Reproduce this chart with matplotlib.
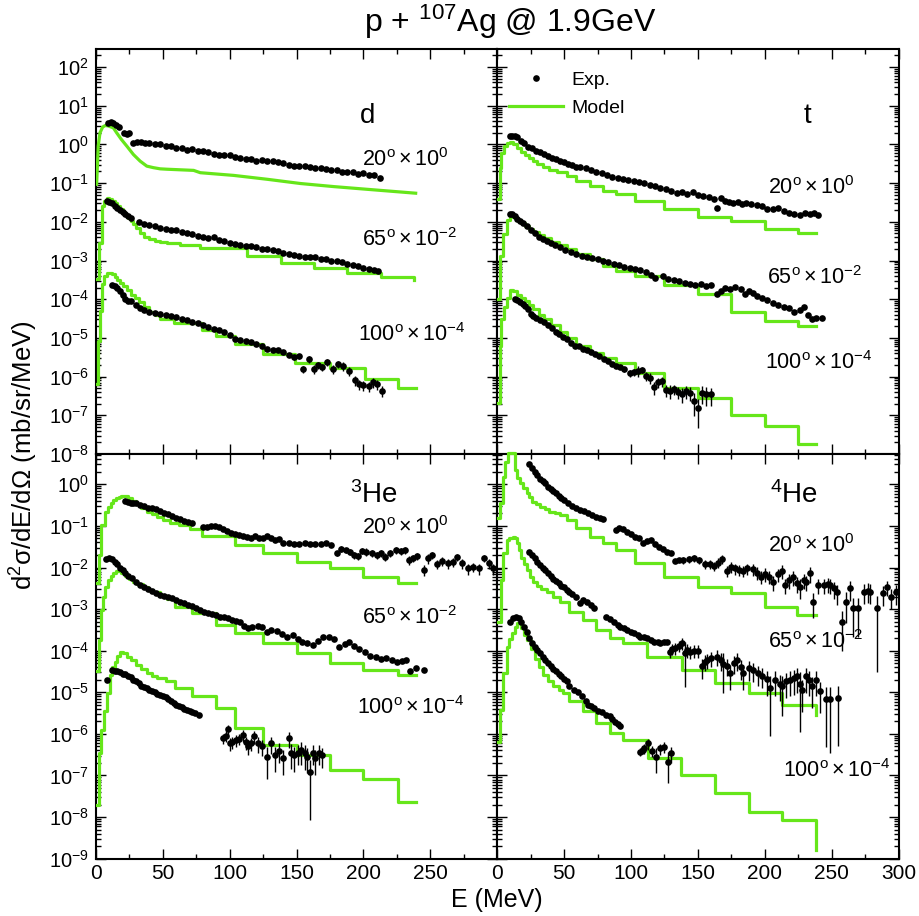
import numpy as np
import matplotlib
matplotlib.use('Agg')
import matplotlib.pyplot as plt
from matplotlib.lines import Line2D
from matplotlib.ticker import LogLocator, MultipleLocator, NullFormatter

plt.rcParams['font.family'] = ['Liberation Sans', 'DejaVu Sans']
plt.rcParams['mathtext.fontset'] = 'custom'
plt.rcParams['mathtext.rm'] = 'Liberation Sans'
plt.rcParams['mathtext.it'] = 'Liberation Sans:italic'
plt.rcParams['mathtext.bf'] = 'Liberation Sans:bold'

# ---------------- data (energies in MeV, cross sections as log10) ----------------
# deuterons
d20_E = [9, 11, 13, 15, 17, 21, 23, 25, 28, 31, 34, 37, 40, 44, 48, 52, 56, 60, 64, 68, 72, 76, 80, 84, 88, 92, 96, 100, 104, 108, 112, 116, 120, 124, 128, 132, 136, 140, 144, 148, 152, 156, 160, 164, 168, 172, 176, 180, 184, 188, 192, 196, 200, 204, 208, 212]
d20_lg = [0.56, 0.57, 0.55, 0.50, 0.46, 0.30, 0.28, 0.30, 0.03, 0.07, 0.07, 0.05, 0.04, 0.0, 0.0, -0.04, -0.05, -0.08, -0.10, -0.14, -0.13, -0.16, -0.18, -0.20, -0.24, -0.26, -0.26, -0.28, -0.32, -0.36, -0.38, -0.38, -0.42, -0.40, -0.43, -0.44, -0.46, -0.48, -0.52, -0.55, -0.56, -0.55, -0.58, -0.62, -0.60, -0.64, -0.66, -0.66, -0.70, -0.72, -0.72, -0.76, -0.75, -0.79, -0.80, -0.86]
d65_E = [8, 10, 12, 14, 16, 18, 20, 22, 24, 26, 32, 36, 40, 44, 48, 52, 56, 60, 64, 68, 72, 76, 80, 84, 88, 92, 96, 100, 104, 108, 112, 116, 120, 124, 128, 132, 136, 140, 144, 148, 152, 156, 160, 164, 168, 172, 176, 180, 184, 188, 192, 196, 200, 204, 208, 211]
d65_lg = [-1.46, -1.48, -1.52, -1.58, -1.65, -1.70, -1.74, -1.80, -1.86, -1.90, -2.0, -2.05, -2.08, -2.12, -2.15, -2.18, -2.20, -2.22, -2.27, -2.28, -2.32, -2.36, -2.38, -2.42, -2.40, -2.48, -2.50, -2.55, -2.58, -2.60, -2.63, -2.63, -2.66, -2.70, -2.71, -2.73, -2.76, -2.80, -2.82, -2.86, -2.88, -2.90, -2.92, -2.90, -2.95, -2.97, -3.00, -3.02, -3.05, -3.08, -3.12, -3.15, -3.20, -3.22, -3.24, -3.28]
d100_E = [12, 14, 16, 18, 20, 22, 24, 26, 30, 33, 36, 40, 44, 48, 52, 56, 60, 64, 68, 72, 76, 80, 84, 88, 92, 96, 100, 104, 108, 112, 116, 120, 124, 128, 132, 136, 140, 144]
d100_lg = [-3.62, -3.66, -3.72, -3.79, -3.90, -3.99, -4.04, -4.05, -4.15, -4.22, -4.28, -4.33, -4.36, -4.38, -4.40, -4.43, -4.47, -4.52, -4.55, -4.58, -4.62, -4.66, -4.72, -4.76, -4.80, -4.86, -4.92, -5.02, -5.06, -5.08, -5.10, -5.15, -5.20, -5.28, -5.30, -5.32, -5.36, -5.45]
d100t_E = [148, 152, 155, 159, 163, 166, 169, 173, 177, 181, 185, 189, 194, 197, 200, 204, 207, 210, 214]
d100t_lg = [-5.50, -5.48, -5.81, -5.55, -5.80, -5.70, -5.75, -5.62, -5.80, -5.68, -5.72, -5.85, -6.10, -6.20, -6.22, -6.25, -6.15, -6.20, -6.37]
d100t_err = [0.15, 0.15, 0.2, 0.2, 0.25, 0.2, 0.2, 0.2, 0.25, 0.2, 0.25, 0.25, 0.3, 0.3, 0.3, 0.3, 0.3, 0.3, 0.3]

d20m_E = [0.5, 1.7, 3, 5, 7, 9, 13, 15.5, 19, 23, 28, 33, 38, 43, 48, 53, 73, 78, 103, 128, 153, 178, 203, 239]
d20m_lg = [-1.03, -0.04, 0.30, 0.45, 0.49, 0.48, 0.43, 0.30, 0.13, -0.04, -0.26, -0.43, -0.56, -0.60, -0.63, -0.64, -0.67, -0.73, -0.80, -0.90, -1.01, -1.09, -1.16, -1.26]
d65m_E = [0.5, 2.5, 4.5, 6, 8, 10, 12, 14, 16, 18, 20, 22, 24, 26, 28, 30, 33, 36, 40, 44, 48, 53, 63, 78, 113, 138, 163, 188, 213, 238, 238]
d65m_lg = [-3.49, -2.54, -1.60, -1.45, -1.39, -1.40, -1.45, -1.52, -1.60, -1.68, -1.75, -1.82, -1.90, -1.97, -2.05, -2.15, -2.30, -2.38, -2.45, -2.50, -2.52, -2.54, -2.61, -2.67, -2.88, -3.06, -3.19, -3.31, -3.42, -3.42, -3.50]
d100m_E = [0.5, 1.7, 3, 4.5, 6, 8, 10, 12, 14, 16, 18, 20, 23, 26, 29, 32, 36, 40, 44, 48, 58, 79, 90, 104, 125, 149, 175, 201, 226, 239]
d100m_lg = [-6.20, -5.08, -4.30, -3.60, -3.40, -3.33, -3.33, -3.36, -3.42, -3.50, -3.58, -3.66, -3.77, -3.88, -3.98, -4.08, -4.20, -4.32, -4.42, -4.52, -4.62, -4.80, -4.95, -5.17, -5.42, -5.65, -5.78, -6.07, -6.29, -6.29]

# tritons
t20_E = [9.5, 11, 13, 15, 18, 20, 23, 26, 29, 32, 35, 38, 41, 44, 47, 50, 53, 56, 59, 62, 66, 70, 74, 78, 82, 86, 90, 94, 98, 102, 106, 110, 114, 118, 122, 126, 130, 134, 138, 142, 146, 150, 154, 158, 162, 164, 167, 170, 173, 176, 180, 183, 186, 190, 194, 198, 202, 206, 210, 214, 218, 222, 226, 230, 234, 237, 240]
t20_lg = [0.22, 0.23, 0.21, 0.18, 0.10, 0.05, -0.07, -0.10, -0.16, -0.20, -0.25, -0.30, -0.35, -0.38, -0.42, -0.46, -0.50, -0.53, -0.57, -0.58, -0.62, -0.66, -0.70, -0.74, -0.80, -0.83, -0.86, -0.90, -0.93, -0.95, -0.97, -1.00, -1.04, -1.08, -1.12, -1.16, -1.20, -1.26, -1.22, -1.28, -1.24, -1.30, -1.33, -1.36, -1.40, -1.63, -1.38, -1.45, -1.50, -1.52, -1.48, -1.54, -1.52, -1.55, -1.56, -1.58, -1.66, -1.68, -1.65, -1.72, -1.76, -1.80, -1.82, -1.76, -1.80, -1.78, -1.82]
t65_E = [9.5, 11, 13, 15, 17, 19, 22, 25, 28, 31, 34, 37, 40, 43, 47, 51, 55, 59, 63, 67, 71, 75, 79, 83, 87, 91, 95, 99, 103, 107, 111, 115, 118, 124, 128, 132, 136, 140, 144, 148, 152, 156, 160, 164, 167, 170, 174, 178, 182, 185, 188, 191, 194, 198, 202, 206, 210, 214, 218, 222, 226, 229, 232, 235, 238, 243]
t65_lg = [-1.81, -1.80, -1.85, -1.92, -1.98, -2.04, -2.11, -2.20, -2.30, -2.38, -2.44, -2.50, -2.55, -2.60, -2.66, -2.73, -2.78, -2.84, -2.88, -2.90, -2.93, -2.97, -3.00, -3.05, -3.08, -3.12, -3.16, -3.20, -3.22, -3.25, -3.30, -3.38, -3.44, -3.40, -3.48, -3.50, -3.53, -3.58, -3.60, -3.62, -3.60, -3.66, -3.62, -3.87, -3.78, -3.72, -3.74, -3.68, -3.74, -3.87, -3.80, -3.85, -3.92, -3.98, -4.02, -4.10, -4.16, -4.20, -4.24, -4.32, -4.28, -4.19, -4.42, -4.52, -4.48, -4.48]
t100_E = [13, 15, 17, 19, 21, 23, 25, 27, 29, 32, 35, 38, 41, 44, 46, 49, 52, 55, 58, 61, 64, 67, 70, 73, 76, 80, 83, 86, 89, 92]
t100_lg = [-3.99, -4.02, -4.06, -4.12, -4.18, -4.25, -4.38, -4.44, -4.48, -4.55, -4.60, -4.66, -4.74, -4.85, -4.91, -4.97, -5.03, -5.12, -5.20, -5.22, -5.28, -5.30, -5.36, -5.42, -5.48, -5.55, -5.60, -5.68, -5.72, -5.75]
t100t_E = [95, 99, 102, 105, 108, 111, 114, 117, 120, 123, 126, 129, 132, 135, 138, 141, 144, 147, 150, 153, 156, 160]
t100t_lg = [-5.80, -5.92, -5.88, -5.85, -5.82, -5.98, -6.03, -6.28, -6.15, -6.12, -6.35, -6.37, -6.32, -6.40, -6.45, -6.38, -6.42, -6.62, -6.80, -6.42, -6.45, -6.46]
t100t_err = [0.15, 0.2, 0.2, 0.3, 0.2, 0.25, 0.3, 0.35, 0.3, 0.3, 0.35, 0.4, 0.3, 0.35, 0.4, 0.35, 0.4, 0.6, 0.7, 0.5, 0.5, 0.5]

t20m_E = [0.7, 2, 3, 5, 7, 9.5, 12, 15, 18, 21, 24, 27, 30, 34, 39, 45, 52, 59, 69, 79, 89, 103, 125, 150, 175, 200, 225, 238]
t20m_lg = [-1.40, -0.60, -0.21, -0.05, 0.04, 0.06, 0.0, -0.10, -0.20, -0.28, -0.36, -0.43, -0.50, -0.58, -0.66, -0.72, -0.82, -0.95, -1.08, -1.20, -1.29, -1.46, -1.68, -1.87, -1.98, -2.18, -2.28, -2.28]
t65m_E = [0.7, 2, 4.5, 7, 9.5, 12, 15, 18, 21, 24, 27, 31, 35, 40, 46, 52, 59, 69, 79, 89, 103, 125, 150, 175, 200, 225, 238]
t65m_lg = [-4.0, -2.88, -2.32, -1.94, -1.83, -1.88, -1.96, -2.04, -2.12, -2.18, -2.26, -2.35, -2.43, -2.52, -2.60, -2.71, -2.84, -2.97, -3.14, -3.27, -3.40, -3.62, -3.87, -4.33, -4.56, -4.69, -4.69]
t100m_E = [0.7, 2, 3, 5, 7, 9.5, 12, 15, 18, 21, 24, 27, 31, 35, 40, 47, 52, 59, 69, 79, 89, 103, 125, 150, 175, 200, 225, 238]
t100m_lg = [-6.67, -5.21, -4.52, -4.20, -3.96, -3.77, -3.80, -3.88, -3.96, -4.05, -4.14, -4.26, -4.40, -4.52, -4.66, -4.86, -5.00, -5.21, -5.38, -5.51, -5.64, -5.90, -6.29, -6.55, -6.98, -7.28, -7.75, -7.75]

# 3He
h3_20_E = [22, 24, 26, 28, 30, 33, 36, 39, 42, 45, 48, 51, 54, 57, 60, 63, 66, 69, 72, 80, 83, 86, 89, 92, 95, 98, 101, 104, 107, 110, 113, 116, 119, 122, 125, 128, 131, 134, 137, 140, 144, 148, 152, 156, 160, 164, 168, 172, 176]
h3_20_lg = [-0.40, -0.43, -0.44, -0.45, -0.46, -0.50, -0.53, -0.56, -0.58, -0.60, -0.63, -0.68, -0.72, -0.77, -0.80, -0.84, -0.88, -0.90, -0.94, -1.03, -1.02, -1.00, -1.01, -1.03, -1.08, -1.12, -1.17, -1.20, -1.22, -1.24, -1.26, -1.28, -1.24, -1.28, -1.30, -1.25, -1.30, -1.34, -1.32, -1.42, -1.40, -1.43, -1.44, -1.42, -1.44, -1.43, -1.43, -1.42, -1.46]
h3_20t_E = [180, 183, 187, 190, 193, 196, 199, 202, 206, 210, 213, 216, 220, 224, 228, 231, 234, 237, 240, 245, 248, 251, 255, 259, 263, 267, 270, 274, 278, 282, 286, 290, 294, 297]
h3_20t_lg = [-1.66, -1.55, -1.59, -1.62, -1.70, -1.72, -1.60, -1.62, -1.66, -1.70, -1.65, -1.74, -1.66, -1.58, -1.60, -1.59, -1.82, -1.78, -1.72, -2.06, -1.78, -1.70, -1.92, -1.85, -1.90, -1.86, -1.75, -1.90, -2.02, -1.98, -2.02, -1.78, -1.90, -2.02]
h3_20t_err = [0.15, 0.15, 0.15, 0.15, 0.2, 0.2, 0.15, 0.2, 0.2, 0.2, 0.2, 0.2, 0.2, 0.2, 0.2, 0.2, 0.25, 0.2, 0.2, 0.3, 0.25, 0.2, 0.25, 0.25, 0.25, 0.25, 0.2, 0.25, 0.3, 0.25, 0.3, 0.2, 0.25, 0.3]
h3_65_E = [7.5, 10, 12, 14, 16, 18, 20, 22, 24, 27, 30, 33, 36, 39, 42, 45, 48, 51, 54, 57, 60, 63, 66, 69, 72, 75, 78, 81, 84, 87, 90, 93, 96, 99, 102, 105, 108, 111, 114, 117, 121, 124, 128, 131, 135, 139, 143, 147, 151, 154, 158, 162, 166, 170, 174, 178, 182, 186, 189, 193, 197, 201, 205, 209, 213, 217, 221, 225, 229, 232, 235, 239, 245]
h3_65_lg = [-1.80, -1.78, -1.80, -1.86, -1.92, -2.00, -2.07, -2.14, -2.20, -2.26, -2.34, -2.42, -2.47, -2.52, -2.57, -2.62, -2.65, -2.68, -2.72, -2.74, -2.78, -2.83, -2.86, -2.90, -2.93, -2.97, -3.02, -3.06, -3.09, -3.12, -3.15, -3.18, -3.20, -3.22, -3.25, -3.28, -3.32, -3.40, -3.46, -3.44, -3.40, -3.42, -3.55, -3.50, -3.52, -3.60, -3.66, -3.62, -3.72, -3.78, -3.82, -3.86, -3.76, -3.68, -3.66, -3.72, -3.92, -3.84, -3.80, -3.88, -3.96, -4.04, -4.12, -4.16, -4.20, -4.18, -4.22, -4.28, -4.24, -4.22, -4.50, -4.42, -4.46]
h3_100_E = [8, 12, 14, 16, 18, 20, 22, 24, 26, 28, 30, 32, 34, 36, 38, 40, 42, 44, 46, 48, 50, 52, 54, 56, 58, 60, 62, 64, 66, 68, 70, 72, 74, 77]
h3_100_lg = [-4.70, -4.46, -4.48, -4.50, -4.52, -4.55, -4.57, -4.60, -4.64, -4.70, -4.74, -4.78, -4.84, -4.88, -4.90, -4.94, -4.97, -5.00, -5.04, -5.06, -5.09, -5.12, -5.16, -5.22, -5.26, -5.30, -5.33, -5.36, -5.39, -5.42, -5.45, -5.48, -5.50, -5.54]
h3_100t_E = [95, 97, 99, 100, 102, 105, 107, 110, 112, 114, 116, 118, 121, 124, 128, 131, 134, 137, 140, 144, 146, 148, 151, 153, 156, 158, 160, 162, 164, 167, 169]
h3_100t_lg = [-6.11, -6.05, -5.89, -6.23, -6.20, -6.15, -6.12, -6.03, -6.20, -6.29, -6.22, -6.05, -6.23, -6.30, -6.55, -6.23, -6.51, -6.40, -6.59, -6.11, -6.45, -6.51, -6.45, -6.39, -6.47, -6.55, -6.91, -6.45, -6.59, -6.45, -6.51]
h3_100t_err = [0.25, 0.3, 0.3, 0.35, 0.3, 0.3, 0.3, 0.3, 0.35, 0.4, 0.35, 0.35, 0.4, 0.4, 0.7, 0.45, 0.6, 0.5, 0.6, 0.4, 0.6, 0.6, 0.5, 0.55, 0.6, 0.6, 0.93, 0.5, 0.6, 0.5, 0.5]

h3_20m_E = [1, 2.5, 4, 7, 9, 11, 13, 15, 17, 19, 21, 24, 27, 30, 34, 38, 42, 46, 50, 55, 62, 70, 79, 104, 125, 150, 175, 200, 226, 239]
h3_20m_lg = [-2.38, -1.70, -0.98, -0.66, -0.55, -0.45, -0.38, -0.33, -0.30, -0.27, -0.28, -0.34, -0.40, -0.48, -0.58, -0.66, -0.72, -0.78, -0.85, -0.92, -0.98, -1.08, -1.24, -1.46, -1.66, -1.86, -2.02, -2.22, -2.38, -2.38]
h3_65m_E = [1, 2.5, 4, 5.5, 7, 9, 11, 13, 15, 17, 19, 22, 25, 28, 31, 35, 39, 43, 48, 53, 59, 72, 90, 104, 125, 150, 175, 200, 226, 239]
h3_65m_lg = [-4.50, -3.74, -3.02, -2.70, -2.46, -2.30, -2.20, -2.12, -2.09, -2.08, -2.12, -2.20, -2.28, -2.34, -2.40, -2.47, -2.54, -2.60, -2.68, -2.76, -2.94, -3.10, -3.38, -3.57, -3.82, -4.06, -4.30, -4.46, -4.58, -4.58]
h3_100m_E = [1, 2.5, 4, 6, 8, 10.5, 12, 14, 16, 18, 20, 23, 26, 30, 34, 38, 42, 46, 52, 59, 72, 90, 104, 125, 150, 175, 200, 226, 239]
h3_100m_lg = [-7.71, -6.47, -5.91, -5.46, -5.02, -4.58, -4.40, -4.26, -4.12, -4.03, -4.05, -4.14, -4.22, -4.34, -4.44, -4.54, -4.60, -4.66, -4.74, -4.90, -5.10, -5.38, -5.86, -6.27, -6.51, -6.87, -7.09, -7.63, -7.63]

# 4He
h4_20_E = [24, 26, 28, 30, 32, 34, 36, 38, 40, 42, 44, 46, 48, 50, 53, 56, 59, 62, 65, 68, 71, 74, 77, 79, 89, 91, 94, 97, 100, 103, 106, 109, 112, 115, 118, 121, 124, 127, 130, 133, 136]
h4_20_lg = [0.49, 0.40, 0.30, 0.22, 0.14, 0.08, 0.02, -0.06, -0.12, -0.17, -0.22, -0.28, -0.34, -0.38, -0.46, -0.52, -0.58, -0.61, -0.64, -0.69, -0.74, -0.78, -0.82, -0.84, -1.10, -1.04, -1.08, -1.14, -1.20, -1.26, -1.30, -1.42, -1.36, -1.34, -1.44, -1.50, -1.56, -1.62, -1.64, -1.84, -1.83]
h4_20t_E = [139, 143, 147, 151, 155, 159, 162, 165, 168, 172, 175, 178, 181, 184, 187, 191, 194, 197, 200, 203, 206, 210, 213, 215, 218, 221, 224, 226, 229, 231, 234, 236, 240, 244, 247, 249, 252, 254, 258, 261, 264, 266, 270, 274, 277, 279, 284, 288, 291, 294, 298]
h4_20t_lg = [-1.82, -1.80, -1.78, -1.82, -1.92, -1.92, -1.96, -1.88, -1.80, -2.08, -1.98, -2.02, -2.06, -2.08, -2.02, -2.04, -2.12, -2.22, -2.15, -2.22, -2.34, -2.16, -2.08, -2.42, -2.30, -2.22, -2.38, -2.46, -2.30, -2.34, -2.14, -2.82, -2.42, -2.42, -2.40, -2.42, -2.50, -2.60, -3.30, -2.82, -2.50, -2.98, -2.98, -2.58, -2.56, -2.58, -2.98, -2.62, -2.46, -2.70, -2.60]
h4_20t_err = [0.2, 0.2, 0.2, 0.2, 0.25, 0.25, 0.25, 0.25, 0.25, 0.3, 0.3, 0.3, 0.3, 0.3, 0.3, 0.3, 0.35, 0.35, 0.35, 0.35, 0.4, 0.35, 0.35, 0.4, 0.4, 0.4, 0.4, 0.5, 0.4, 0.4, 0.4, 0.6, 0.4, 0.4, 0.4, 0.4, 0.45, 0.5, 0.8, 0.7, 0.5, 0.8, 0.8, 0.5, 0.5, 0.5, 0.97, 0.5, 0.4, 0.5, 0.5]
h4_65_E = [24, 26, 28, 30, 32, 34, 36, 38, 40, 42, 44, 46, 48, 50, 52, 54, 56, 59, 62, 64, 67, 70, 72, 81, 84, 87, 90, 92, 95, 97, 100, 102, 105, 107, 110, 112, 115, 117, 120, 122, 125, 127]
h4_65_lg = [-1.62, -1.70, -1.78, -1.86, -1.94, -2.00, -2.06, -2.13, -2.20, -2.27, -2.33, -2.38, -2.44, -2.48, -2.53, -2.58, -2.63, -2.70, -2.86, -2.78, -2.82, -2.90, -2.98, -3.18, -3.24, -3.30, -3.38, -3.42, -3.46, -3.50, -3.55, -3.58, -3.62, -3.66, -3.68, -3.70, -3.75, -3.78, -3.80, -3.82, -3.80, -3.78]
h4_65t_E = [129, 131, 133, 136, 138, 140, 142, 144, 147, 150, 153, 155, 157, 160, 164, 167, 169, 172, 174, 177, 179, 182, 184, 188, 191, 195, 198, 202, 204, 208, 211, 213, 216, 219, 222, 224, 226, 228, 231, 233, 235, 238, 241, 246, 249, 255]
h4_65t_lg = [-4.02, -3.96, -3.94, -3.88, -3.82, -4.06, -3.98, -4.02, -4.00, -4.00, -4.37, -4.26, -4.22, -4.18, -4.14, -4.22, -4.32, -4.36, -4.54, -4.30, -4.22, -4.40, -4.54, -4.42, -4.46, -4.54, -4.60, -4.69, -4.90, -4.70, -4.80, -4.86, -4.74, -4.70, -4.66, -4.62, -4.80, -4.94, -4.62, -4.70, -4.86, -4.70, -4.98, -5.17, -5.17, -5.14]
h4_65t_err = [0.3, 0.3, 0.3, 0.3, 0.3, 0.85, 0.35, 0.35, 0.35, 0.35, 0.5, 0.4, 0.4, 0.4, 0.4, 0.45, 0.8, 0.45, 0.6, 0.45, 0.45, 0.5, 0.6, 0.5, 0.5, 0.5, 0.5, 0.6, 0.93, 0.6, 0.6, 0.8, 0.6, 0.6, 0.6, 0.6, 0.93, 0.7, 0.6, 0.6, 0.7, 0.6, 0.7, 0.93, 0.95, 0.93]
h4_100_E = [9.5, 12, 14, 16, 18, 20, 22, 24, 26, 28, 30, 32, 34, 36, 38, 40, 42, 44, 46, 48, 50, 52, 54, 57, 60, 63, 66, 68, 70, 72, 75, 78, 81, 84, 86, 88, 90, 92]
h4_100_lg = [-3.30, -3.22, -3.18, -3.22, -3.30, -3.42, -3.55, -3.70, -3.82, -3.90, -3.98, -4.06, -4.14, -4.22, -4.30, -4.37, -4.44, -4.50, -4.56, -4.62, -4.67, -4.74, -4.84, -4.94, -5.00, -5.10, -5.22, -5.30, -5.34, -5.38, -5.44, -5.48, -5.54, -5.58, -5.64, -5.71, -5.76, -5.81]
h4_100t_E = [107, 109, 110, 113, 116, 119, 122, 125, 128, 130]
h4_100t_lg = [-6.43, -6.38, -6.35, -6.23, -6.40, -6.55, -6.35, -6.31, -6.67, -6.47]
h4_100t_err = [0.2, 0.2, 0.25, 0.3, 0.3, 0.6, 0.3, 0.3, 0.7, 0.4]

h4_20m_E = [0.7, 2, 4, 6, 8, 11, 13, 15, 17, 19, 22, 24, 26, 29, 32, 36, 39, 43, 47, 52, 59, 69, 79, 89, 103, 125, 150, 175, 200, 224, 238]
h4_20m_lg = [-0.82, -0.46, 0.18, 0.54, 0.76, 0.76, 0.34, 0.15, 0.02, -0.10, -0.22, -0.30, -0.42, -0.48, -0.54, -0.60, -0.66, -0.70, -0.74, -0.86, -1.06, -1.26, -1.42, -1.58, -1.90, -2.22, -2.46, -2.62, -2.94, -3.14, -3.14]
h4_65m_E = [0.7, 2.5, 4.5, 7, 9, 11.5, 13, 14.5, 16, 18, 20, 22, 24.4, 27, 30, 33, 37, 42, 47, 54, 64, 74, 84, 94, 112, 138, 163, 188, 213, 238, 238]
h4_65m_lg = [-3.30, -2.30, -1.66, -1.34, -1.30, -1.27, -1.30, -1.42, -1.58, -1.76, -1.92, -2.06, -2.22, -2.34, -2.44, -2.52, -2.60, -2.70, -2.82, -3.06, -3.26, -3.50, -3.70, -3.82, -4.14, -4.46, -4.78, -5.02, -5.30, -5.30, -5.55]
h4_100m_E = [0.7, 2, 4, 7, 9, 11, 13, 14.5, 16, 18, 20, 22, 25, 28, 31, 34, 38, 42, 46, 49, 54, 64, 74, 84, 94, 113, 137, 163, 188, 213, 238, 238]
h4_100m_lg = [-6.19, -5.42, -4.54, -3.90, -3.72, -3.58, -3.42, -3.34, -3.34, -3.45, -3.62, -3.74, -3.95, -4.20, -4.40, -4.58, -4.72, -4.86, -4.95, -5.02, -5.22, -5.46, -5.74, -5.99, -6.15, -6.59, -6.99, -7.43, -7.87, -8.07, -8.07, -8.79]

GREEN = '#66e61a'
MS = 4.8
LW = 2.3


def exp_points(ax, E, lg, err=None):
    y = 10.0 ** np.array(lg)
    if err is None:
        ax.plot(E, y, 'o', color='black', ms=MS, mew=0, zorder=4)
    else:
        r = np.array(err) * y
        ax.errorbar(E, y, yerr=[r, r], fmt='o', color='black', ms=MS, mew=0,
                    elinewidth=1.0, capsize=1.6, capthick=1.0, zorder=4)


def model(ax, E, lg, steps=True, clip=True):
    ax.plot(E, 10.0 ** np.array(lg), color=GREEN, lw=LW,
            drawstyle='steps-post' if steps else 'default', zorder=3, clip_on=clip)


def style(ax, ylim, left, bottom, last_label=True):
    ax.set_yscale('log')
    ax.set_xlim(0, 300)
    ax.set_ylim(*ylim)
    ax.xaxis.set_major_locator(MultipleLocator(50))
    ax.xaxis.set_minor_locator(MultipleLocator(25))
    ax.yaxis.set_major_locator(LogLocator(base=10, numticks=30))
    ax.yaxis.set_minor_locator(LogLocator(base=10, subs=np.arange(2, 10), numticks=30))
    ax.yaxis.set_minor_formatter(NullFormatter())
    ax.tick_params(which='both', direction='in', top=True, right=True, width=1.0)
    ax.tick_params(axis='x', labelsize=15, pad=4)
    ax.tick_params(axis='y', labelsize=14.5, pad=5)
    ax.tick_params(which='major', length=7)
    ax.tick_params(which='minor', length=3.5)
    for s in ax.spines.values():
        s.set_linewidth(1.5)
    if not left:
        ax.tick_params(labelleft=False)
    if not bottom:
        ax.tick_params(labelbottom=False)
    else:
        ax.set_xticks(range(0, 301, 50))
        labels = [str(v) for v in range(0, 301, 50)]
        if not last_label:
            labels[-1] = ''
        ax.set_xticklabels(labels)


fig = plt.figure(figsize=(9.2, 9.16), dpi=100)
x0, w = 0.1043, 0.4362
x1 = 0.5405
yb, h = 0.0626, 0.4418
yt = 0.5044

ax_d = fig.add_axes([x0, yt, w, h])
ax_t = fig.add_axes([x1, yt, w, h])
ax_3 = fig.add_axes([x0, yb, w, h])
ax_4 = fig.add_axes([x1, yb, w, h])

top_lim = (1e-8, 10 ** 2.46)
bot_lim = (1e-9, 10 ** 0.73)
style(ax_d, top_lim, True, False)
style(ax_t, top_lim, False, False)
style(ax_3, bot_lim, True, True, last_label=False)
style(ax_4, bot_lim, False, True)

# deuterons
model(ax_d, d20m_E, d20m_lg, steps=False)
model(ax_d, d65m_E, d65m_lg)
model(ax_d, d100m_E, d100m_lg)
exp_points(ax_d, d20_E, d20_lg)
exp_points(ax_d, d65_E, d65_lg)
exp_points(ax_d, d100_E, d100_lg)
exp_points(ax_d, d100t_E, d100t_lg, d100t_err)

# tritons
model(ax_t, t20m_E, t20m_lg)
model(ax_t, t65m_E, t65m_lg)
model(ax_t, t100m_E, t100m_lg)
exp_points(ax_t, t20_E, t20_lg)
exp_points(ax_t, t65_E, t65_lg)
exp_points(ax_t, t100_E, t100_lg)
exp_points(ax_t, t100t_E, t100t_lg, t100t_err)

# 3He
model(ax_3, h3_20m_E, h3_20m_lg)
model(ax_3, h3_65m_E, h3_65m_lg)
model(ax_3, h3_100m_E, h3_100m_lg)
exp_points(ax_3, h3_20_E, h3_20_lg)
exp_points(ax_3, h3_20t_E, h3_20t_lg, h3_20t_err)
exp_points(ax_3, h3_65_E, h3_65_lg)
exp_points(ax_3, h3_100_E, h3_100_lg)
exp_points(ax_3, h3_100t_E, h3_100t_lg, h3_100t_err)

# 4He
model(ax_4, h4_20m_E, h4_20m_lg, clip=False)
model(ax_4, h4_65m_E, h4_65m_lg)
model(ax_4, h4_100m_E, h4_100m_lg)
exp_points(ax_4, h4_20_E, h4_20_lg)
exp_points(ax_4, h4_20t_E, h4_20t_lg, h4_20t_err)
exp_points(ax_4, h4_65_E, h4_65_lg)
exp_points(ax_4, h4_65t_E, h4_65t_lg, h4_65t_err)
exp_points(ax_4, h4_100_E, h4_100_lg)
exp_points(ax_4, h4_100t_E, h4_100t_lg, h4_100t_err)

# panel annotations
LBL = 15.5
ax_d.text(203, 10 ** 0.73, 'd', fontsize=20, ha='center', va='center')
ax_d.text(199, 10 ** -0.385, r'$20^{\rm o}\times10^{0}$', fontsize=LBL, va='center')
ax_d.text(199, 10 ** -2.46, r'$65^{\rm o}\times10^{-2}$', fontsize=LBL, va='center')
ax_d.text(196, 10 ** -4.91, r'$100^{\rm o}\times10^{-4}$', fontsize=LBL, va='center')

ax_t.text(232, 10 ** 0.73, 't', fontsize=20, ha='center', va='center')
ax_t.text(202.5, 10 ** -1.11, r'$20^{\rm o}\times10^{0}$', fontsize=LBL, va='center')
ax_t.text(201.5, 10 ** -3.44, r'$65^{\rm o}\times10^{-2}$', fontsize=LBL, va='center')
ax_t.text(200, 10 ** -5.63, r'$100^{\rm o}\times10^{-4}$', fontsize=LBL, va='center')

ax_3.text(190, 10 ** -0.26, r'$^{3}$He', fontsize=20, va='center')
ax_3.text(199, 10 ** -1.05, r'$20^{\rm o}\times10^{0}$', fontsize=LBL, va='center')
ax_3.text(199, 10 ** -3.21, r'$65^{\rm o}\times10^{-2}$', fontsize=LBL, va='center')
ax_3.text(195, 10 ** -5.37, r'$100^{\rm o}\times10^{-4}$', fontsize=LBL, va='center')

ax_4.text(204, 10 ** -0.26, r'$^{4}$He', fontsize=20, va='center')
ax_4.text(202.5, 10 ** -1.46, r'$20^{\rm o}\times10^{0}$', fontsize=LBL, va='center')
ax_4.text(202.5, 10 ** -3.79, r'$65^{\rm o}\times10^{-2}$', fontsize=LBL, va='center')
ax_4.text(213.5, 10 ** -6.87, r'$100^{\rm o}\times10^{-4}$', fontsize=LBL, va='center')

handles = [Line2D([], [], marker='o', ls='none', color='black', ms=MS, mew=0),
           Line2D([], [], color=GREEN, lw=LW)]
ax_t.legend(handles, ['Exp.', 'Model'], loc='upper left', bbox_to_anchor=(0.0, 0.975),
            frameon=False, fontsize=14, handlelength=2.8, handletextpad=0.4,
            labelspacing=0.55, borderaxespad=0.2)

fig.text(0.555, 0.976, r'p + $^{107}$Ag @ 1.9GeV', fontsize=23, ha='center', va='center')
fig.text(0.026, 0.5033, r'd$^{2}$σ/dE/dΩ (mb/sr/MeV)', fontsize=18.5,
         rotation=90, ha='center', va='center')
fig.text(0.540, 0.0175, 'E (MeV)', fontsize=18, ha='center', va='center')

fig.savefig('out.png', dpi=100)
